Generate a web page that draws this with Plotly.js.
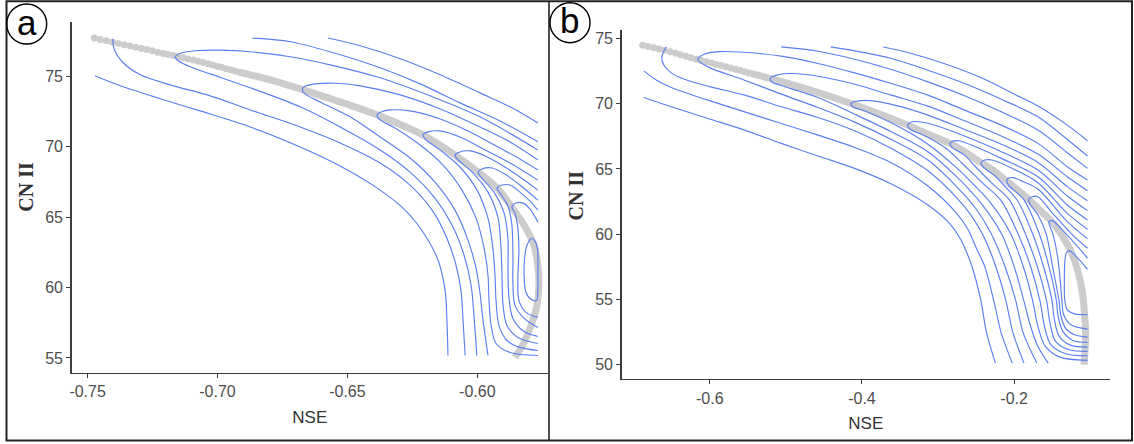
<!DOCTYPE html>
<html>
<head>
<meta charset="utf-8">
<script src="https://cdn.plot.ly/plotly-3.0.1.min.js"></script>
<style>html,body{margin:0;padding:0;background:#fff;}#chart{width:1134px;height:444px;}</style>
</head>
<body>
<div id="chart"></div>
<script>
// ---------- Panel (a) ----------
const aTickX = [-0.75, -0.70, -0.65, -0.60];
const aTickXText = ['-0.75', '-0.70', '-0.65', '-0.60'];
const aTickY = [55, 60, 65, 70, 75];

const aDotsNSE = [-0.7474,-0.7451,-0.7428,-0.7405,-0.7382,-0.7359,-0.7336,-0.7315,-0.7293,-0.7272,-0.7251,-0.7230,-0.7209,-0.7190,-0.7170,-0.7151,-0.7132,-0.7113,-0.7093,-0.7074,-0.7055,-0.7036,-0.7018,-0.7001,-0.6984,-0.6967,-0.6949,-0.6932,-0.6915,-0.6897];
const aDotsCN = [77.70,77.60,77.51,77.42,77.32,77.23,77.13,77.05,76.96,76.88,76.79,76.70,76.61,76.54,76.46,76.39,76.31,76.22,76.14,76.05,75.96,75.87,75.78,75.70,75.62,75.53,75.45,75.37,75.28,75.20];

const aRidgeNSE = [-0.6915,-0.6874,-0.6797,-0.6682,-0.6528,-0.6386,-0.6297,-0.6209,-0.6086,-0.5997,-0.5924,-0.5867,-0.5813,-0.5782,-0.5767,-0.5763,-0.5770,-0.5793,-0.5820,-0.5855];
const aRidgeCN = [75.28,75.09,74.74,74.10,73.17,72.25,71.57,70.83,69.40,68.19,67.06,65.70,64.21,63.00,61.58,60.51,58.73,57.31,56.10,55.04];

const aContourNSE = [
  [-0.6575,-0.6451,-0.6286,-0.6143,-0.5990,-0.5874,-0.5767],
  [-0.6867,-0.6720,-0.6567,-0.6374,-0.6220,-0.6067,-0.5913,-0.5767],
  [-0.7472,-0.7374,-0.7220,-0.7067,-0.6874,-0.6682,-0.6528,-0.6374,-0.6278,-0.6201,-0.6151,-0.6124,-0.6117,-0.6113],
  [-0.7403,-0.7397,-0.7367,-0.7297,-0.7182,-0.7028,-0.6874,-0.6682,-0.6528,-0.6374,-0.6259,-0.6174,-0.6117,-0.6082,-0.6063,-0.6055,-0.6047],
  [-0.5767,-0.5990,-0.6182,-0.6374,-0.6567,-0.6720,-0.6874,-0.6990,-0.7086,-0.7136,-0.7163,-0.7151,-0.7105,-0.7028,-0.6874,-0.6682,-0.6528,-0.6374,-0.6259,-0.6163,-0.6097,-0.6051,-0.6024,-0.6013,-0.6002],
  [-0.5767,-0.5874,-0.5990,-0.6143,-0.6297,-0.6451,-0.6547,-0.6624,-0.6659,-0.6674,-0.6663,-0.6605,-0.6490,-0.6374,-0.6259,-0.6163,-0.6086,-0.6036,-0.6005,-0.5990,-0.5978,-0.5959],
  [-0.5767,-0.5836,-0.5913,-0.6028,-0.6143,-0.6259,-0.6336,-0.6370,-0.6386,-0.6374,-0.6317,-0.6220,-0.6132,-0.6059,-0.6005,-0.5974,-0.5959,-0.5955,-0.5947,-0.5928,-0.5874,-0.5767],
  [-0.5767,-0.5874,-0.5970,-0.6067,-0.6143,-0.6190,-0.6209,-0.6197,-0.6143,-0.6067,-0.6001,-0.5959,-0.5940,-0.5932,-0.5928,-0.5917,-0.5886,-0.5836,-0.5767],
  [-0.5767,-0.5836,-0.5894,-0.5970,-0.6028,-0.6067,-0.6086,-0.6074,-0.6020,-0.5959,-0.5920,-0.5909,-0.5905,-0.5901,-0.5886,-0.5844,-0.5767],
  [-0.5767,-0.5836,-0.5894,-0.5943,-0.5982,-0.5997,-0.5986,-0.5936,-0.5897,-0.5882,-0.5882,-0.5878,-0.5863,-0.5820,-0.5767],
  [-0.5767,-0.5797,-0.5836,-0.5874,-0.5905,-0.5924,-0.5913,-0.5882,-0.5867,-0.5863,-0.5863,-0.5855,-0.5820,-0.5767],
  [-0.5767,-0.5797,-0.5824,-0.5851,-0.5867,-0.5855,-0.5844,-0.5840,-0.5844,-0.5840,-0.5813,-0.5767],
  [-0.5791,-0.5778,-0.5768,-0.5767,-0.5767,-0.5772,-0.5793,-0.5813,-0.5820,-0.5818,-0.5809,-0.5791]
];
const aContourCN = [
  [77.70,77.15,76.16,75.09,73.81,72.82,71.68],
  [77.70,77.44,76.73,75.59,74.45,73.10,71.82,70.35],
  [75.02,74.31,73.39,72.53,71.39,69.97,68.62,66.91,65.49,63.71,61.93,59.80,57.67,55.18],
  [77.63,76.87,76.02,75.09,74.38,73.60,72.60,71.39,70.26,68.83,67.27,65.49,63.50,61.58,59.80,57.67,55.18],
  [69.76,72.11,73.60,74.88,75.80,76.37,76.73,76.84,76.80,76.66,76.37,76.09,75.66,75.16,74.17,72.82,71.39,69.76,68.19,66.34,64.42,62.29,60.16,58.02,55.18],
  [69.05,70.33,71.39,72.67,73.67,74.31,74.49,74.45,74.31,74.08,73.74,73.17,72.11,70.68,69.19,67.48,65.49,63.36,61.37,59.66,57.67,55.18],
  [68.34,69.12,69.90,71.04,71.96,72.53,72.60,72.46,72.25,71.89,71.32,70.11,68.69,66.91,64.92,62.79,60.87,59.09,57.31,56.03,55.39,55.18],
  [67.62,68.83,69.76,70.68,71.11,71.04,70.83,70.47,69.76,68.55,66.91,64.92,62.79,60.87,59.09,57.31,56.24,55.75,55.53],
  [66.91,67.84,68.55,69.33,69.69,69.62,69.40,69.05,68.19,66.77,64.92,62.79,60.87,58.73,57.31,56.46,56.03],
  [66.20,67.27,68.05,68.48,68.41,68.19,67.84,66.77,65.28,63.36,61.22,59.23,57.81,56.88,56.53],
  [65.49,66.13,66.77,67.27,67.27,67.06,66.70,65.78,64.42,62.29,60.16,58.73,57.81,57.17],
  [64.64,65.56,65.99,65.99,65.70,65.28,64.21,62.65,60.51,59.09,58.24,57.88],
  [63.48,63.29,62.65,61.22,59.80,59.09,59.16,59.66,60.87,62.08,63.00,63.48]
];

// ---------- Panel (b) ----------
const bTickX = [-0.6, -0.4, -0.2];
const bTickXText = ['-0.6', '-0.4', '-0.2'];
const bTickY = [50, 55, 60, 65, 70, 75];

const bDotsNSE = [-0.6882,-0.6810,-0.6737,-0.6665,-0.6593,-0.6520,-0.6448,-0.6381,-0.6313,-0.6246,-0.6178,-0.6111,-0.6043,-0.5976,-0.5913,-0.5851,-0.5788,-0.5725,-0.5663,-0.5600,-0.5542,-0.5484,-0.5427,-0.5369];
const bDotsCN = [74.49,74.39,74.30,74.20,74.11,74.00,73.88,73.76,73.65,73.54,73.42,73.32,73.22,73.12,73.02,72.93,72.84,72.74,72.64,72.55,72.46,72.37,72.28,72.19];

const bRidgeNSE = [-0.5398,-0.5205,-0.4675,-0.4145,-0.3759,-0.3398,-0.3133,-0.2843,-0.2651,-0.2434,-0.2265,-0.2096,-0.1952,-0.1807,-0.1663,-0.1504,-0.1373,-0.1253,-0.1166,-0.1108,-0.1075,-0.1060,-0.1080];
const bRidgeCN = [72.23,71.94,71.04,70.02,69.20,68.36,67.67,66.96,66.32,65.48,64.86,64.07,63.38,62.67,61.85,60.96,59.93,58.66,57.25,55.72,53.93,52.15,49.97];

const bContourNSE = [
  [-0.3720,-0.3373,-0.2892,-0.2410,-0.1928,-0.1687,-0.1301,-0.1036],
  [-0.4410,-0.4096,-0.3614,-0.3133,-0.2651,-0.2169,-0.1687,-0.1301,-0.1036],
  [-0.5060,-0.4578,-0.4096,-0.3614,-0.3133,-0.2651,-0.2169,-0.1687,-0.1301,-0.1036],
  [-0.6867,-0.6506,-0.6024,-0.5542,-0.5060,-0.4578,-0.4096,-0.3614,-0.3133,-0.2843,-0.2699,-0.2554,-0.2439,-0.2361,-0.2246],
  [-0.6867,-0.6699,-0.6506,-0.6024,-0.5542,-0.5060,-0.4578,-0.4096,-0.3614,-0.3133,-0.2747,-0.2602,-0.2506,-0.2386,-0.2270,-0.2169,-0.2024],
  [-0.6573,-0.6631,-0.6602,-0.6506,-0.6361,-0.6024,-0.5542,-0.5060,-0.4578,-0.4096,-0.3614,-0.3133,-0.2747,-0.2554,-0.2400,-0.2241,-0.2111,-0.2014,-0.1870],
  [-0.1036,-0.1301,-0.1687,-0.2169,-0.2651,-0.3133,-0.3614,-0.4096,-0.4578,-0.5060,-0.5542,-0.5880,-0.6072,-0.6159,-0.6024,-0.5542,-0.5060,-0.4578,-0.4096,-0.3614,-0.3133,-0.2747,-0.2506,-0.2304,-0.2120,-0.1981,-0.1880,-0.1701],
  [-0.1036,-0.1301,-0.1687,-0.2169,-0.2651,-0.3133,-0.3614,-0.4096,-0.4578,-0.4916,-0.5108,-0.5205,-0.5181,-0.5060,-0.4578,-0.4096,-0.3614,-0.3133,-0.2747,-0.2434,-0.2169,-0.2000,-0.1875,-0.1783,-0.1687,-0.1552],
  [-0.1036,-0.1301,-0.1687,-0.2169,-0.2651,-0.3133,-0.3518,-0.3855,-0.4048,-0.4145,-0.4120,-0.3952,-0.3614,-0.3133,-0.2747,-0.2506,-0.2304,-0.2048,-0.1880,-0.1759,-0.1687,-0.1590,-0.1398,-0.1036],
  [-0.1036,-0.1301,-0.1687,-0.2169,-0.2651,-0.2940,-0.3181,-0.3335,-0.3398,-0.3364,-0.3181,-0.2892,-0.2660,-0.2410,-0.2178,-0.1952,-0.1783,-0.1663,-0.1600,-0.1518,-0.1325,-0.1036],
  [-0.1036,-0.1301,-0.1687,-0.2169,-0.2506,-0.2723,-0.2805,-0.2843,-0.2815,-0.2651,-0.2530,-0.2289,-0.2063,-0.1855,-0.1696,-0.1576,-0.1528,-0.1455,-0.1277,-0.1036],
  [-0.1036,-0.1301,-0.1687,-0.2024,-0.2289,-0.2386,-0.2434,-0.2410,-0.2241,-0.2096,-0.1961,-0.1759,-0.1614,-0.1504,-0.1470,-0.1407,-0.1253,-0.1036],
  [-0.1036,-0.1301,-0.1687,-0.1880,-0.2014,-0.2082,-0.2096,-0.2072,-0.1952,-0.1870,-0.1672,-0.1542,-0.1446,-0.1422,-0.1359,-0.1229,-0.1036],
  [-0.1036,-0.1253,-0.1494,-0.1687,-0.1759,-0.1807,-0.1793,-0.1687,-0.1581,-0.1494,-0.1412,-0.1388,-0.1325,-0.1205,-0.1036],
  [-0.1036,-0.1205,-0.1398,-0.1494,-0.1542,-0.1528,-0.1494,-0.1436,-0.1398,-0.1373,-0.1349,-0.1253,-0.1036],
  [-0.1036,-0.1181,-0.1277,-0.1316,-0.1335,-0.1340,-0.1335,-0.1301,-0.1205,-0.1036]
];
const bContourCN = [
  [74.36,73.90,73.03,71.94,70.53,69.82,68.36,67.16],
  [74.36,74.06,73.47,72.57,71.55,70.35,69.00,67.26,65.99],
  [74.36,74.03,73.42,72.63,71.68,70.61,69.38,67.98,66.24,65.04],
  [70.48,69.77,68.87,67.98,66.96,65.99,65.04,63.84,62.23,60.78,59.55,57.51,54.95,52.40,50.10],
  [72.52,71.81,71.25,70.28,69.38,68.49,67.59,66.65,65.48,63.69,61.54,60.32,59.04,57.51,54.95,52.40,50.10],
  [74.36,73.60,72.96,72.37,71.94,71.35,70.66,69.77,68.95,67.93,66.57,64.86,62.74,61.34,59.81,57.51,54.95,52.40,50.10],
  [64.15,65.17,66.96,68.36,69.51,70.66,71.55,72.37,73.09,73.65,73.95,74.00,73.80,73.39,72.83,71.81,70.74,69.71,68.59,67.26,65.68,63.59,61.98,60.06,57.51,54.95,52.40,50.10],
  [63.33,64.40,66.14,67.52,68.69,69.82,70.66,71.50,72.11,72.32,72.22,71.94,71.65,71.40,70.48,69.20,67.85,66.32,64.35,62.36,60.06,57.51,54.95,52.91,51.38,50.10],
  [62.56,63.64,65.50,66.90,68.03,69.13,69.82,70.22,70.22,70.02,69.77,69.43,68.54,66.90,65.04,63.64,62.36,60.06,57.51,54.95,52.91,51.38,50.56,50.31],
  [61.80,62.92,64.91,66.32,67.52,68.16,68.56,68.62,68.36,68.03,67.57,66.57,65.30,63.89,62.62,60.06,57.51,54.95,52.91,51.51,50.82,50.66],
  [61.08,62.23,64.40,65.81,66.70,67.16,67.13,66.96,66.65,66.06,65.30,63.89,62.62,60.06,57.51,54.95,53.17,51.76,51.12,51.00],
  [60.37,61.59,63.94,65.04,65.68,65.68,65.48,65.17,64.40,63.51,62.62,60.06,57.51,54.95,53.42,52.15,51.46,51.33],
  [59.65,60.96,63.46,64.02,64.33,64.27,64.07,63.74,63.13,62.62,60.06,57.51,54.95,53.68,52.53,51.84,51.69],
  [58.91,60.06,61.59,62.87,62.87,62.67,62.31,61.47,60.06,57.51,54.95,53.81,52.78,52.27,52.09],
  [58.15,59.30,60.52,61.03,60.96,60.57,60.06,58.53,56.74,54.95,53.81,53.04,52.71],
  [57.30,58.27,58.73,58.53,57.76,56.23,54.95,54.19,53.88,53.81]
];

// ---------- Build figure ----------
const W = 1134, H = 444;
const px = v => v / W;
const py = v => 1 - v / H;
const BLUE = '#5a7ff0';
const GREY = '#cccccc';

function panelTraces(dx, dy, rx, ry, cx, cy, xa, ya) {
  const t = [];
  t.push({x: dx, y: dy, xaxis: xa, yaxis: ya, type: 'scatter', mode: 'markers',
          marker: {color: GREY, size: 7, line: {width: 0}}, hoverinfo: 'skip', showlegend: false});
  t.push({x: rx, y: ry, xaxis: xa, yaxis: ya, type: 'scatter', mode: 'lines',
          line: {color: GREY, width: 7, shape: 'spline', smoothing: 0.6}, hoverinfo: 'skip', showlegend: false});
  for (let i = 0; i < cx.length; i++) {
    t.push({x: cx[i], y: cy[i], xaxis: xa, yaxis: ya, type: 'scatter', mode: 'lines',
            line: {color: BLUE, width: 1.15, shape: 'spline', smoothing: 0.9},
            hoverinfo: 'skip', showlegend: false});
  }
  return t;
}

const traces = [].concat(
  panelTraces(aDotsNSE, aDotsCN, aRidgeNSE, aRidgeCN, aContourNSE, aContourCN, 'x', 'y'),
  panelTraces(bDotsNSE, bDotsCN, bRidgeNSE, bRidgeCN, bContourNSE, bContourCN, 'x2', 'y2')
);

const tickFont = {family: 'Liberation Sans Narrow, Arial Narrow, Liberation Sans, Arial, sans-serif', size: 16, color: '#4d4d4d'};
const titleFont = {family: 'Liberation Sans Narrow, Arial Narrow, Liberation Sans, Arial, sans-serif', size: 17, color: '#333333'};
const axisBase = {showline: true, linecolor: '#3c3c3c', linewidth: 1.3, ticks: 'outside', ticklen: 4,
                  tickwidth: 1, tickcolor: '#3c3c3c', showgrid: false, zeroline: false, tickfont: tickFont,
                  fixedrange: true};

const layout = {
  width: W, height: H,
  margin: {l: 0, r: 0, t: 0, b: 0},
  paper_bgcolor: '#ffffff', plot_bgcolor: '#ffffff',
  showlegend: false,
  xaxis: Object.assign({}, axisBase, {domain: [px(71.5), px(548)], range: [-0.7562, -0.5728], anchor: 'y',
          tickvals: aTickX, ticktext: aTickXText, title: {text: 'NSE', font: titleFont, standoff: 12}}),
  yaxis: Object.assign({}, axisBase, {domain: [py(372.5), py(21.7)], range: [53.97, 78.86], anchor: 'x',
          tickvals: aTickY}),
  xaxis2: Object.assign({}, axisBase, {domain: [px(621.5), px(1110)], range: [-0.716, -0.074], anchor: 'y2',
          tickvals: bTickX, ticktext: bTickXText, title: {text: 'NSE', font: titleFont, standoff: 11}}),
  yaxis2: Object.assign({}, axisBase, {domain: [py(379), py(30)], range: [48.88, 75.66], anchor: 'x2',
          tickvals: bTickY}),
  shapes: [
    {type: 'rect', xref: 'paper', yref: 'paper', x0: px(6.5), x1: px(1132), y0: py(440.5), y1: py(1.2),
     line: {color: '#222222', width: 2}, fillcolor: 'rgba(0,0,0,0)'},
    {type: 'line', xref: 'paper', yref: 'paper', x0: px(549), x1: px(549), y0: py(440.5), y1: py(1.2),
     line: {color: '#222222', width: 1.6}},
    {type: 'circle', xref: 'paper', yref: 'paper', x0: px(6.7), x1: px(46.7), y0: py(44), y1: py(4),
     line: {color: '#000000', width: 1.4}},
    {type: 'circle', xref: 'paper', yref: 'paper', x0: px(550), x1: px(590), y0: py(42.7), y1: py(2.7),
     line: {color: '#000000', width: 1.4}}
  ],
  annotations: [
    {text: 'a', xref: 'paper', yref: 'paper', x: px(26.7), y: py(22), xanchor: 'center', yanchor: 'middle',
     showarrow: false, font: {family: 'Liberation Sans, Arial, sans-serif', size: 35, color: '#000'}},
    {text: 'b', xref: 'paper', yref: 'paper', x: px(569), y: py(21), xanchor: 'center', yanchor: 'middle',
     showarrow: false, font: {family: 'Liberation Sans, Arial, sans-serif', size: 35, color: '#000'}},
    {text: '<b>CN II</b>', xref: 'paper', yref: 'paper', x: px(25.7), y: py(187), xanchor: 'center', yanchor: 'middle',
     textangle: -90, showarrow: false, font: {family: 'Liberation Serif, Times New Roman, serif', size: 20, color: '#333333'}},
    {text: '<b>CN II</b>', xref: 'paper', yref: 'paper', x: px(575.5), y: py(196), xanchor: 'center', yanchor: 'middle',
     textangle: -90, showarrow: false, font: {family: 'Liberation Serif, Times New Roman, serif', size: 20, color: '#333333'}}
  ]
};

Plotly.newPlot('chart', traces, layout, {staticPlot: true, displayModeBar: false});
</script>
</body>
</html>
